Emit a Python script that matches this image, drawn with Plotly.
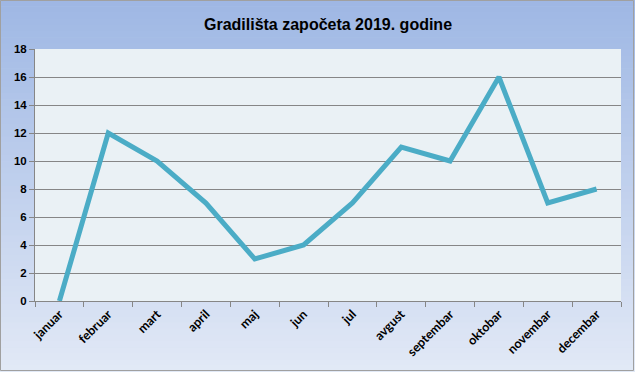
import plotly.graph_objects as go

months = ["januar", "februar", "mart", "april", "maj", "jun", "jul",
          "avgust", "septembar", "oktobar", "novembar", "decembar"]
values = [0, 12, 10, 7, 3, 4, 7, 11, 10, 16, 7, 8]
title_text = "Gradilišta započeta 2019. godine"

W, H = 635, 372
ML, MR, MT, MB = 35, 14, 49, 71

def lerp(c1, c2, t):
    return "rgb(%d,%d,%d)" % tuple(round(a + (b - a) * t) for a, b in zip(c1, c2))

top_c = (158, 183, 228)
bot_c = (226, 233, 246)
PW, PH = W - ML - MR, H - MT - MB
shapes = []
n = 60
for i in range(n):
    t0 = i / n
    t1 = (i + 1) / n
    shapes.append(dict(type="rect", xref="paper", yref="paper",
                       x0=-ML / PW, x1=1 + MR / PW,
                       y0=1 + MT / PH - t1 * H / PH - 0.002,
                       y1=1 + MT / PH - t0 * H / PH,
                       fillcolor=lerp(top_c, bot_c, (t0 + t1) / 2),
                       line=dict(width=0), layer="below"))
# outer frame
shapes.append(dict(type="rect", xref="paper", yref="paper",
                   x0=-ML / PW + 0.5 / PW, x1=1 + MR / PW - 1.5 / PW,
                   y0=-MB / PH + 1.5 / PH, y1=1 + MT / PH - 0.5 / PH,
                   fillcolor="rgba(0,0,0,0)", line=dict(color="#a0a0a0", width=1), layer="below"))
# plot area background
shapes.append(dict(type="rect", xref="paper", yref="paper", x0=0, x1=1, y0=0, y1=1,
                   fillcolor="#eaf1f5", line=dict(width=0), layer="below"))

fig = go.Figure()
fig.add_trace(go.Scatter(x=months, y=values, mode="lines",
                         line=dict(color="#4bacc6", width=5),
                         hoverinfo="x+y", showlegend=False))

fig.update_layout(
    width=W, height=H,
    margin=dict(l=ML, r=MR, t=MT, b=MB, autoexpand=False),
    paper_bgcolor="#c8d6ee",
    plot_bgcolor="#eaf1f5",
    shapes=shapes,
    title=dict(text=title_text, x=0.5, xref="paper", xanchor="center",
               y=1 - 24 / H, yref="container", yanchor="middle",
               font=dict(family="Liberation Sans, Arial", size=16, color="#000000", weight="bold")),
    xaxis=dict(type="category", range=[-0.5, 11.5], tickson="boundaries",
               ticks="outside", ticklen=5, tickcolor="#868686",
               showline=True, linecolor="#868686", linewidth=1,
               showgrid=False, tickangle=-45, automargin=False,
               tickfont=dict(family="Lato, Liberation Sans", size=12.5, color="#000000", weight="bold"),
               fixedrange=True),
    yaxis=dict(range=[0, 18], dtick=2, ticks="outside", ticklen=5, tickcolor="#868686",
               showline=True, linecolor="#868686", linewidth=1, automargin=False,
               showgrid=True, gridcolor="#868686", gridwidth=1, zeroline=False,
               tickfont=dict(family="Liberation Sans, Arial", size=11.5, color="#000000", weight="bold"),
               fixedrange=True),
)
fig.write_html("out.html", config={"displayModeBar": False},
               post_script="document.body.style.margin='0';document.body.style.overflow='hidden';")
